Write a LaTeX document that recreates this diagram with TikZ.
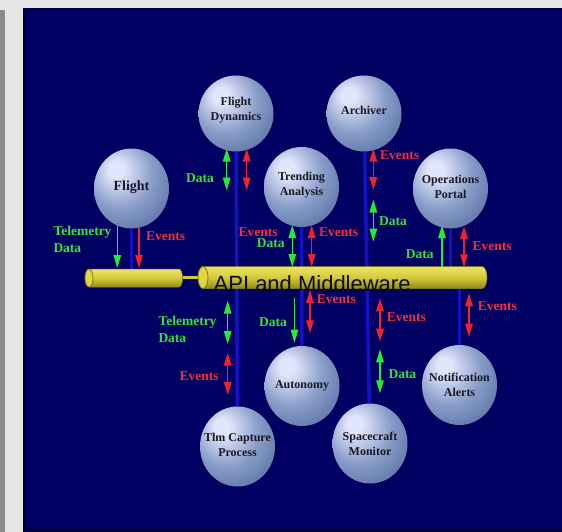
\documentclass[tikz,border=0pt]{standalone}
\usepackage{fontspec}
\setmainfont{Liberation Serif}
\newfontfamily\apifont{Liberation Sans}
\usetikzlibrary{shapes.geometric,arrows.meta}

% palette
\definecolor{pagegray}{RGB}{229,229,229}
\definecolor{edgegray}{RGB}{138,138,138}
\definecolor{navy}{RGB}{0,0,98}
\definecolor{navydark}{RGB}{0,0,52}
\definecolor{wireblue}{RGB}{18,18,196}
\definecolor{orbHi}{RGB}{226,230,252}
\definecolor{orbMid}{RGB}{136,156,200}
\definecolor{orbLo}{RGB}{82,108,158}
\definecolor{orbEdge}{RGB}{54,80,130}
\definecolor{orbText}{RGB}{24,24,36}
\definecolor{arrGreen}{RGB}{34,236,52}
\definecolor{arrRed}{RGB}{240,34,44}
\definecolor{lblGreen}{RGB}{50,228,60}
\definecolor{lblRed}{RGB}{242,48,60}
\definecolor{busHi}{RGB}{236,228,104}
\definecolor{busMid}{RGB}{212,202,56}
\definecolor{busLo}{RGB}{146,138,22}
\definecolor{busRim}{RGB}{118,110,14}
\definecolor{busFace}{RGB}{222,212,70}
\definecolor{apiText}{RGB}{10,10,10}

% glossy sphere shading, lit from the upper left
\pgfdeclareradialshading{orb}{\pgfpoint{-11bp}{13bp}}{%
  color(0bp)=(orbHi); color(5bp)=(orbHi); color(22bp)=(orbMid);
  color(40bp)=(orbLo); color(60bp)=(orbEdge); color(72bp)=(orbEdge)}

\pgfdeclarelayer{paper}
\pgfdeclarelayer{wires}
\pgfdeclarelayer{buslayer}
\pgfsetlayers{paper,wires,buslayer,main}

\tikzset{
  orbnode/.style={ellipse, minimum width=75pt, minimum height=80pt, inner sep=0pt,
    shading=orb},
  orbtext/.style={inner sep=0pt, text=orbText, align=center,
    font=\bfseries\fontsize{12}{15}\selectfont},
  wire/.style={draw=wireblue, line width=3.6pt},
  >={Triangle[length=13pt,width=7.5pt]},
  gone/.style={draw=arrGreen, fill=arrGreen, line width=1.2pt, ->},
  gtwo/.style={draw=arrGreen, fill=arrGreen, line width=1.2pt, <->},
  rone/.style={draw=arrRed, fill=arrRed, line width=1.2pt, ->},
  rtwo/.style={draw=arrRed, fill=arrRed, line width=1.2pt, <->},
  lbl/.style={inner sep=0pt, anchor=base west, font=\bfseries\fontsize{13.5}{18}\selectfont},
  glbl/.style={lbl, text=lblGreen},
  rlbl/.style={lbl, text=lblRed},
  busbody/.style={top color=busHi, bottom color=busLo, middle color=busMid,
    draw=busLo, line width=0.5pt},
  busend/.style={fill=busFace, draw=busRim, line width=0.7pt},
  apitext/.style={inner sep=0pt, anchor=base west, text=apiText,
    font=\apifont\fontsize{22}{22}\selectfont}
}

\begin{document}
\begin{tikzpicture}[x=1pt,y=-1pt]
\useasboundingbox (0,0) rectangle (562,532);

% ---- page and panel ----
\begin{pgfonlayer}{paper}
  \fill[pagegray] (0,0) rectangle (562,532);
  \fill[edgegray] (0,10) rectangle (5,532);
  \fill[navy] (23,8) rectangle (562,532);
  \fill[navydark] (23,8) rectangle (25,532);
  \fill[navydark!60!navy] (25,8) rectangle (562,10);
  \fill[navydark] (23,529.5) rectangle (562,532);
\end{pgfonlayer}

% ---- components ----
\node[orbnode, minimum height=76pt] (fdyn) at (236,113.5) {};
\node[orbnode, minimum height=76pt] (arch) at (364,113.5) {};
\node[orbnode] (flight) at (131.5,188.5) {};
\node[orbnode] (trend)  at (301.5,187)   {};
\node[orbnode] (ops)    at (450.5,188.5) {};
\node[orbnode] (auto)   at (302,386)     {};
\node[orbnode] (notif)  at (459.5,385)   {};
\node[orbnode] (tlm)    at (237.5,446.5) {};
\node[orbnode] (sc)     at (370,443.5)   {};

\node[orbtext] (fdyn-t)   at ([yshift=3pt]fdyn.center)  {Flight\\Dynamics};
\node[orbtext] (arch-t)   at ([yshift=3pt]arch.center)  {Archiver};
\node[orbtext, font=\bfseries\fontsize{14}{16}\selectfont] (flight-t) at ([yshift=1pt]flight.center) {Flight};
\node[orbtext] (trend-t)  at ([yshift=2pt]trend.center) {Trending\\Analysis};
\node[orbtext] (ops-t)    at ([yshift=2pt]ops.center)   {Operations\\Portal};
\node[orbtext] (auto-t)   at (auto.center)  {Autonomy};
\node[orbtext] (notif-t)  at (notif.center) {Notification\\Alerts};
\node[orbtext] (tlm-t)    at ([yshift=1.5pt]tlm.center)  {Tlm Capture\\Process};
\node[orbtext] (sc-t)     at (sc.center)    {Spacecraft\\Monitor};

\coordinate (busaxis) at (0,277.5);

% ---- blue links between components and the bus ----
\begin{pgfonlayer}{wires}
  \draw[wire] (flight) -- (flight |- busaxis);
  \draw[wire] (fdyn) -- (tlm);
  \draw[wire] (trend) -- (auto);
  \draw[wire] (arch) -- (sc);
  \draw[wire] (ops) -- (ops |- busaxis);
  \draw[wire] (notif) -- (notif |- busaxis);
\end{pgfonlayer}

% ---- middleware bus ----
\begin{pgfonlayer}{buslayer}
  % short stub on the left
  \path[busbody] (89,269) -- (179,269)
      arc[start angle=-90, end angle=90, x radius=3.5, y radius=9]
      -- (89,287)
      arc[start angle=90, end angle=270, x radius=4, y radius=9] -- cycle;
  \path[busend] (89,278) ellipse[x radius=4, y radius=9];
  % rod joining the two sections
  \draw[busMid, line width=2.2pt] (182.5,277.5) -- (199,277.5);
  % main section
  \path[busbody] (203,266.5) -- (482,266.5)
      arc[start angle=-90, end angle=90, x radius=5, y radius=11]
      -- (203,288.5)
      arc[start angle=90, end angle=270, x radius=5, y radius=11] -- cycle;
  \path[busend] (203,277.5) ellipse[x radius=5, y radius=11];
\end{pgfonlayer}
\node[apitext] (api) at (213.5,291) {API and Middleware};

% ---- message flows ----
\coordinate (f1a) at (117.3,225);   \coordinate (f1b) at (117.3,268);
\coordinate (f2a) at (139,227.5);   \coordinate (f2b) at (139,268);
\coordinate (d1a) at (226.7,148.5); \coordinate (d1b) at (226.7,190.5);
\coordinate (d2a) at (246.7,148.5); \coordinate (d2b) at (246.7,190.5);
\coordinate (t1a) at (292.3,225);   \coordinate (t1b) at (292.3,267);
\coordinate (t2a) at (311.7,225);   \coordinate (t2b) at (311.7,267);
\coordinate (a1a) at (373.3,148.5); \coordinate (a1b) at (373.3,190);
\coordinate (a2a) at (373.3,199.5); \coordinate (a2b) at (373.3,241.7);
\coordinate (o1a) at (442,267.3);   \coordinate (o1b) at (442,225);
\coordinate (o2a) at (464,226);     \coordinate (o2b) at (464,267.3);
\coordinate (c1a) at (227.7,300.7); \coordinate (c1b) at (227.7,344);
\coordinate (c2a) at (227.7,352.7); \coordinate (c2b) at (227.7,395);
\coordinate (u1a) at (294.5,298.3); \coordinate (u1b) at (294.5,342.7);
\coordinate (u2a) at (310,290);     \coordinate (u2b) at (310,333.3);
\coordinate (s1a) at (380,298.3);   \coordinate (s1b) at (380,341.7);
\coordinate (s2a) at (380,349.3);   \coordinate (s2b) at (380,393.3);
\coordinate (n1a) at (469,293.3);   \coordinate (n1b) at (469,336.7);

\draw[gone] (f1a) -- (f1b);
\draw[rone] (f2a) -- (f2b);
\draw[gtwo] (d1a) -- (d1b);
\draw[rtwo] (d2a) -- (d2b);
\draw[gtwo] (t1a) -- (t1b);
\draw[rtwo] (t2a) -- (t2b);
\draw[rtwo] (a1a) -- (a1b);
\draw[gtwo] (a2a) -- (a2b);
\draw[gone] (o1a) -- (o1b);
\draw[rtwo] (o2a) -- (o2b);
\draw[gtwo] (c1a) -- (c1b);
\draw[rtwo] (c2a) -- (c2b);
\draw[gone] (u1a) -- (u1b);
\draw[rtwo] (u2a) -- (u2b);
\draw[rtwo] (s1a) -- (s1b);
\draw[gtwo] (s2a) -- (s2b);
\draw[rtwo] (n1a) -- (n1b);

% ---- flow labels ----
\node[glbl] (lf1) at (53.3,235)   {Telemetry};
\node[glbl] (lf2) at (53.3,252.7) {Data};
\node[rlbl] (lf3) at (146,240)    {Events};
\node[glbl] (ld1) at (186,182)    {Data};
\node[rlbl] (lt1) at (238.3,236.5) {Events};
\node[glbl] (lt2) at (256.7,247)  {Data};
\node[rlbl] (lt3) at (319,236.5)  {Events};
\node[rlbl] (la1) at (380,159)    {Events};
\node[glbl] (la2) at (379,225.5)  {Data};
\node[glbl] (lo1) at (405.7,258.5) {Data};
\node[rlbl] (lo2) at (472.3,250)  {Events};
\node[glbl] (lc1) at (158.3,325)  {Telemetry};
\node[glbl] (lc2) at (158.3,342.7) {Data};
\node[rlbl] (lc3) at (179.3,380)  {Events};
\node[glbl] (lu1) at (259,326)    {Data};
\node[rlbl] (lu2) at (316.7,303)  {Events};
\node[rlbl] (ls1) at (386.7,321.5) {Events};
\node[glbl] (ls2) at (388.3,378)  {Data};
\node[rlbl] (ln1) at (477.7,310.5) {Events};
\end{tikzpicture}
\end{document}
